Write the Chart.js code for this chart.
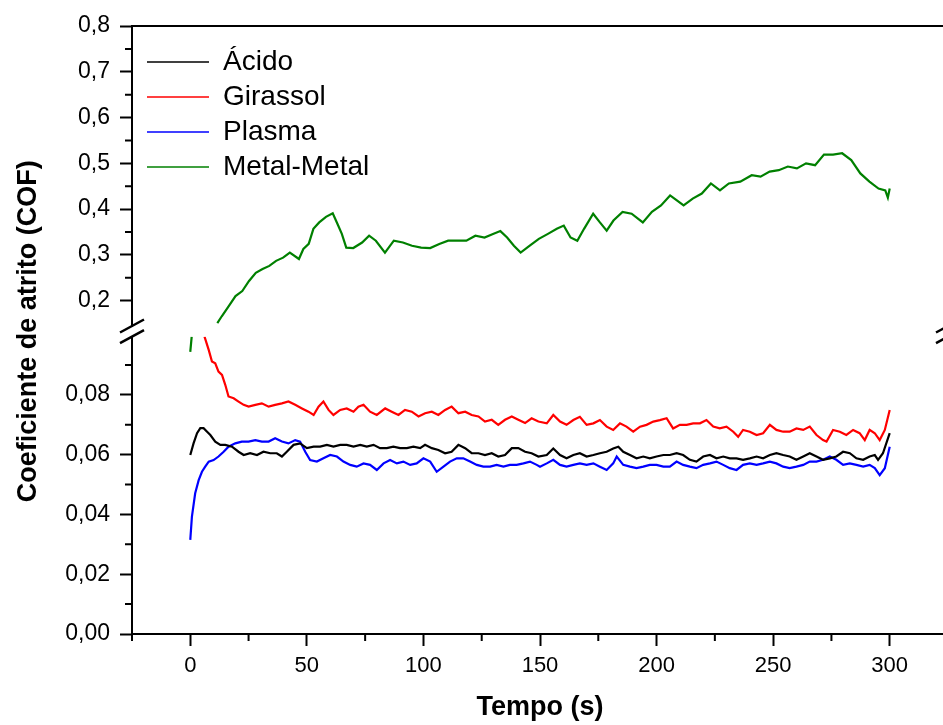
<!DOCTYPE html>
<html lang="pt-BR">
<head>
<meta charset="utf-8">
<title>Coeficiente de atrito x Tempo</title>
<script src="https://cdn.jsdelivr.net/npm/chart.js@4.4.1/dist/chart.umd.min.js"></script>
<style>
  html, body { margin: 0; padding: 0; background: #fff; overflow: hidden; }
  canvas { display: block; }
</style>
</head>
<body>
<canvas id="cofChart" width="960" height="725"></canvas>
<script>
// Dados: [tempo (s), COF]
const acido = [
  [0,0.0599],[1.4,0.0638],[2.9,0.0672],[4.3,0.0689],[5.7,0.0689],[7.1,0.0678],[8.6,0.0666],[10.7,0.0644],
  [12.9,0.0633],[15.0,0.0633],[17.9,0.0627],[20.7,0.0610],[22.9,0.0599],[25.7,0.0605],[28.6,0.0599],
  [31.4,0.0610],[34.3,0.0605],[37.1,0.0605],[39.3,0.0594],[41.4,0.0610],[44.3,0.0633],[47.1,0.0638],
  [50.0,0.0622],[52.9,0.0627],[55.7,0.0627],[58.6,0.0633],[61.4,0.0627],[64.3,0.0633],[67.1,0.0633],
  [70.0,0.0627],[72.9,0.0633],[75.7,0.0627],[78.6,0.0633],[81.4,0.0622],[84.3,0.0622],[87.1,0.0627],
  [90.0,0.0622],[92.9,0.0622],[95.7,0.0627],[98.6,0.0622],[100.7,0.0633],[103.6,0.0622],[106.4,0.0616],
  [109.3,0.0605],[112.1,0.0610],[115.0,0.0633],[117.9,0.0622],[120.7,0.0605],[123.6,0.0605],[126.4,0.0599],
  [129.3,0.0605],[132.1,0.0594],[135.0,0.0599],[137.9,0.0622],[140.7,0.0622],[143.6,0.0610],[146.4,0.0605],
  [149.3,0.0594],[152.9,0.0599],[155.7,0.0621],[158.6,0.0599],[161.4,0.0588],[164.3,0.0599],[167.1,0.0605],
  [170.0,0.0594],[172.9,0.0599],[175.7,0.0605],[178.6,0.0610],[181.4,0.0621],[183.6,0.0627],[185.7,0.0610],
  [188.6,0.0599],[191.4,0.0588],[194.3,0.0594],[197.1,0.0588],[200.0,0.0594],[202.9,0.0599],[205.7,0.0599],
  [208.6,0.0605],[211.4,0.0599],[214.3,0.0583],[217.1,0.0577],[220.0,0.0594],[222.9,0.0599],[225.7,0.0588],
  [228.6,0.0594],[231.4,0.0588],[234.3,0.0588],[237.1,0.0583],[240.0,0.0588],[242.9,0.0594],[245.7,0.0588],
  [248.6,0.0599],[251.4,0.0605],[254.3,0.0599],[257.1,0.0594],[260.0,0.0583],[262.9,0.0594],[265.7,0.0605],
  [268.6,0.0594],[271.4,0.0583],[274.3,0.0588],[277.1,0.0594],[280.0,0.0610],[282.9,0.0605],[285.7,0.0588],
  [288.6,0.0583],[291.4,0.0594],[293.6,0.0599],[295.0,0.0583],[297.1,0.0605],[300.0,0.0672]
];

const girassol = [
  [6.1,0.0995],[7.9,0.0951],[9.3,0.0912],[10.7,0.0906],[12.1,0.0878],[13.6,0.0867],[15.0,0.0834],
  [16.4,0.0795],[18.6,0.0789],[20.7,0.0778],[22.9,0.0767],[25.0,0.0761],[27.9,0.0767],[30.7,0.0772],
  [33.6,0.0761],[36.4,0.0767],[39.3,0.0772],[42.1,0.0778],[45.0,0.0767],[47.9,0.0755],[50.7,0.0744],
  [52.9,0.0733],[55.0,0.0761],[57.1,0.0778],[59.3,0.0750],[61.4,0.0733],[64.3,0.0750],[67.1,0.0755],
  [70.0,0.0744],[72.1,0.0761],[74.3,0.0767],[77.1,0.0744],[80.0,0.0733],[83.6,0.0755],[86.4,0.0744],
  [89.3,0.0733],[92.1,0.0750],[95.0,0.0744],[97.9,0.0728],[100.7,0.0739],[103.6,0.0744],[106.4,0.0733],
  [109.3,0.0750],[112.1,0.0761],[115.0,0.0739],[117.9,0.0744],[120.7,0.0733],[123.6,0.0728],[126.4,0.0711],
  [129.3,0.0717],[132.1,0.0700],[135.0,0.0717],[137.9,0.0728],[140.7,0.0717],[143.6,0.0706],[146.4,0.0722],
  [149.3,0.0711],[152.9,0.0705],[155.7,0.0733],[158.6,0.0711],[161.4,0.0700],[164.3,0.0716],[167.1,0.0727],
  [170.0,0.0700],[172.9,0.0705],[175.7,0.0716],[178.6,0.0694],[181.4,0.0683],[184.3,0.0705],[187.1,0.0694],
  [190.0,0.0677],[192.9,0.0694],[195.7,0.0700],[198.6,0.0711],[201.4,0.0716],[204.3,0.0722],[207.1,0.0688],
  [210.0,0.0700],[212.9,0.0700],[215.7,0.0705],[218.6,0.0705],[221.4,0.0716],[224.3,0.0694],[227.1,0.0688],
  [230.0,0.0694],[232.9,0.0677],[235.0,0.0660],[237.1,0.0683],[240.0,0.0677],[242.9,0.0666],[245.7,0.0672],
  [248.6,0.0700],[251.4,0.0683],[254.3,0.0677],[257.1,0.0677],[260.0,0.0688],[262.9,0.0683],[265.7,0.0694],
  [268.6,0.0666],[271.4,0.0649],[272.9,0.0644],[275.7,0.0683],[278.6,0.0677],[281.4,0.0666],[284.3,0.0683],
  [287.1,0.0672],[289.3,0.0649],[291.4,0.0683],[293.6,0.0672],[295.7,0.0649],[297.9,0.0683],[300.0,0.0750]
];

const plasma = [
  [0,0.0315],[0.7,0.0393],[2.1,0.0471],[3.6,0.0515],[5.0,0.0543],[6.4,0.0560],[7.9,0.0577],[10.0,0.0582],
  [12.1,0.0594],[14.3,0.0610],[16.4,0.0627],[19.3,0.0638],[22.1,0.0644],[25.0,0.0644],[27.9,0.0649],
  [30.7,0.0644],[33.6,0.0644],[36.4,0.0655],[39.3,0.0644],[42.1,0.0638],[45.0,0.0649],[47.1,0.0644],
  [49.3,0.0610],[51.4,0.0582],[54.3,0.0577],[57.1,0.0588],[60.0,0.0599],[62.9,0.0594],[65.7,0.0577],
  [68.6,0.0566],[71.4,0.0560],[74.3,0.0571],[77.1,0.0566],[80.0,0.0549],[82.9,0.0571],[85.7,0.0582],
  [88.6,0.0571],[91.4,0.0577],[94.3,0.0566],[97.1,0.0571],[100.0,0.0588],[102.9,0.0577],[105.7,0.0543],
  [108.6,0.0560],[111.4,0.0577],[114.3,0.0588],[117.1,0.0588],[120.0,0.0577],[122.9,0.0566],[125.7,0.0560],
  [128.6,0.0560],[131.4,0.0566],[134.3,0.0560],[137.1,0.0566],[140.0,0.0566],[142.9,0.0571],[145.7,0.0577],
  [148.6,0.0566],[150.0,0.0560],[152.9,0.0571],[155.7,0.0583],[158.6,0.0566],[161.4,0.0560],[164.3,0.0566],
  [167.1,0.0571],[170.0,0.0566],[172.9,0.0571],[175.7,0.0560],[178.6,0.0549],[181.4,0.0571],[182.9,0.0594],
  [185.7,0.0566],[188.6,0.0560],[191.4,0.0555],[194.3,0.0560],[197.1,0.0566],[200.0,0.0566],[202.9,0.0560],
  [205.7,0.0560],[208.6,0.0577],[211.4,0.0566],[214.3,0.0560],[217.1,0.0555],[220.0,0.0566],[222.9,0.0571],
  [225.7,0.0577],[228.6,0.0566],[231.4,0.0555],[234.3,0.0549],[237.1,0.0566],[240.0,0.0571],[242.9,0.0566],
  [245.7,0.0571],[248.6,0.0577],[251.4,0.0571],[254.3,0.0560],[257.1,0.0555],[260.0,0.0560],[262.9,0.0566],
  [265.7,0.0577],[268.6,0.0577],[271.4,0.0583],[274.3,0.0594],[277.1,0.0583],[280.0,0.0566],[282.9,0.0571],
  [285.7,0.0566],[288.6,0.0560],[291.4,0.0566],[293.6,0.0555],[295.7,0.0532],[297.9,0.0555],[300.0,0.0627]
];

// Metal-Metal: trecho inicial (eixo de baixo) e restante (eixo de cima)
const metalInicio = [[0,0.0944],[0.6,0.0995]];
const metal = [
  [11.6,0.151],[13.5,0.166],[16.5,0.188],[19.4,0.210],[22.3,0.221],[25.2,0.243],[28.1,0.261],[31.0,0.269],
  [33.9,0.276],[36.8,0.287],[39.8,0.294],[42.7,0.305],[46.6,0.291],[48.5,0.313],[50.8,0.324],[52.8,0.357],
  [55.3,0.371],[58.2,0.383],[61.1,0.391],[63.1,0.368],[65.0,0.346],[66.9,0.316],[69.9,0.315],[73.7,0.327],
  [76.7,0.342],[79.6,0.331],[83.5,0.305],[87.3,0.331],[91.2,0.327],[95.1,0.320],[99.0,0.316],[102.9,0.315],
  [106.8,0.324],[110.6,0.331],[114.5,0.331],[118.4,0.331],[122.3,0.342],[126.2,0.338],[130.1,0.346],
  [133.0,0.352],[135.9,0.338],[138.8,0.320],[141.7,0.305],[145.6,0.320],[149.5,0.335],[153.4,0.346],
  [157.2,0.357],[160.2,0.364],[163.1,0.338],[166.0,0.331],[168.9,0.357],[172.8,0.390],[175.7,0.371],
  [178.6,0.353],[181.5,0.375],[185.4,0.394],[189.3,0.390],[194.1,0.371],[198.0,0.394],[201.9,0.408],
  [205.8,0.430],[208.7,0.419],[211.6,0.408],[215.5,0.423],[219.4,0.434],[223.3,0.456],[227.2,0.441],
  [231.0,0.456],[235.9,0.460],[240.8,0.474],[244.6,0.471],[248.5,0.482],[252.4,0.485],[256.3,0.493],
  [260.2,0.489],[264.1,0.500],[268.0,0.496],[271.8,0.519],[275.7,0.519],[279.6,0.522],[283.5,0.507],
  [287.4,0.478],[291.3,0.460],[295.2,0.445],[298.1,0.441],[299.2,0.425],[300.0,0.445]
];

const xTicks = [0, 50, 100, 150, 200, 250, 300];
const yTopoTicks = [0.2, 0.3, 0.4, 0.5, 0.6, 0.7, 0.8];
const yBaixoTicks = [0.00, 0.02, 0.04, 0.06, 0.08];

const FONTE = '"Liberation Sans", Arial, Helvetica, sans-serif';
const pontos = arr => arr.map(p => ({ x: p[0], y: p[1] }));

// marcas menores, linha de cima e sinais de quebra do eixo
const extras = {
  id: 'extras',
  afterLayout(chart) {
    // legenda dentro da área, mais para baixo e à direita
    const lg = chart.legend;
    const a = chart.chartArea;
    const dx = a.left + 8 - lg.left;
    const dy = a.top + 15 - lg.top;
    lg.left += dx; lg.right += dx;
    lg.top += dy; lg.bottom += dy;
  },
  afterDraw(chart) {
    const { ctx, chartArea: a, scales } = chart;
    const x = scales.x, yt = scales.yTopo, yb = scales.yBaixo;
    ctx.save();
    ctx.strokeStyle = '#000';
    ctx.lineWidth = 2;
    ctx.beginPath();
    ctx.moveTo(a.left - 1, a.top);
    ctx.lineTo(a.right, a.top);
    for (let v = -25; v <= 325; v += 50) {
      const px = x.getPixelForValue(v);
      ctx.moveTo(px, a.bottom);
      ctx.lineTo(px, a.bottom + 7);
    }
    for (let v = 0.25; v < 0.8; v += 0.1) {
      const py = yt.getPixelForValue(v);
      ctx.moveTo(a.left - 7, py);
      ctx.lineTo(a.left, py);
    }
    for (let v = 0.01; v < 0.1; v += 0.02) {
      const py = yb.getPixelForValue(v);
      ctx.moveTo(a.left - 7, py);
      ctx.lineTo(a.left, py);
    }
    ctx.stroke();
    // quebra do eixo
    ctx.lineWidth = 2.5;
    ctx.beginPath();
    [a.left, a.right].forEach(px => {
      [yt.bottom, yb.top].forEach(py => {
        ctx.moveTo(px - 12, py + 6.5);
        ctx.lineTo(px + 12, py - 6.5);
      });
    });
    ctx.stroke();
    ctx.restore();
  }
};

const eixoY = (ticks, casas) => ({
  type: 'linear',
  position: 'left',
  stack: 'cof',
  afterBuildTicks: s => { s.ticks = ticks.map(v => ({ value: v })); },
  afterFit: s => { s.width = 132; },
  ticks: {
    color: '#000',
    padding: 10,
    autoSkip: false,
    font: { family: FONTE, size: 23 },
    callback: v => v.toFixed(casas).replace('.', ',')
  },
  grid: { drawOnChartArea: false, tickLength: 12, tickWidth: 2, tickColor: '#000' },
  border: { color: '#000', width: 2 }
});

const yTopo = Object.assign(eixoY(yTopoTicks, 1), { min: 0.1447, max: 0.8, stackWeight: 300, weight: 3 });
const yBaixo = Object.assign(eixoY(yBaixoTicks, 2), { min: 0, max: 0.0995, stackWeight: 297.3, weight: 1 });

const ctx = document.getElementById('cofChart').getContext('2d');
new Chart(ctx, {
  type: 'line',
  data: {
    datasets: [
      { label: 'Ácido', data: pontos(acido), borderColor: '#000000', yAxisID: 'yBaixo' },
      { label: 'Girassol', data: pontos(girassol), borderColor: '#ff0000', yAxisID: 'yBaixo' },
      { label: 'Plasma', data: pontos(plasma), borderColor: '#0000ff', yAxisID: 'yBaixo' },
      { label: 'Metal-Metal', data: pontos(metal), borderColor: '#008000', yAxisID: 'yTopo' },
      { label: 'Metal-Metal', data: pontos(metalInicio), borderColor: '#008000', yAxisID: 'yBaixo' }
    ]
  },
  options: {
    responsive: false,
    animation: false,
    layout: { padding: { left: 0, top: 26, right: 12, bottom: 0 } },
    elements: {
      line: { borderWidth: 2.2, tension: 0, fill: false },
      point: { radius: 0, hoverRadius: 0 }
    },
    plugins: {
      legend: {
        position: 'chartArea',
        align: 'start',
        labels: {
          color: '#000',
          font: { family: FONTE, size: 28, lineHeight: 1 },
          padding: 7,
          usePointStyle: true,
          pointStyle: 'line',
          pointStyleWidth: 62,
          filter: item => {
            item.lineWidth = 1.5; // traço fino na legenda
            return item.datasetIndex !== 4;
          }
        }
      },
      tooltip: { enabled: false }
    },
    scales: {
      x: {
        type: 'linear',
        position: 'bottom',
        min: -25,
        max: 325,
        afterBuildTicks: s => { s.ticks = xTicks.map(v => ({ value: v })); },
        afterFit: s => { s.height = 91; },
        ticks: { color: '#000', padding: 7, maxRotation: 0, autoSkip: false, font: { family: FONTE, size: 22 } },
        grid: { drawOnChartArea: false, tickLength: 12, tickWidth: 2, tickColor: '#000' },
        border: { color: '#000', width: 2 },
        title: {
          display: true,
          text: 'Tempo (s)',
          color: '#000',
          font: { family: FONTE, size: 27, weight: 'bold' },
          padding: { top: 0, bottom: 1 }
        }
      },
      yTopo: yTopo,
      // eixo vazio entre as duas partes, só para o vão e o título
      yVao: {
        type: 'linear',
        position: 'left',
        stack: 'cof',
        stackWeight: 10.7,
        weight: 2,
        min: 0,
        max: 1,
        afterFit: s => { s.width = 132; },
        ticks: { display: false },
        grid: { display: false },
        border: { display: false },
        title: {
          display: true,
          text: 'Coeficiente de atrito (COF)',
          color: '#000',
          font: { family: FONTE, size: 27, weight: 'bold' },
          padding: { top: 12, bottom: 0 }
        }
      },
      yBaixo: yBaixo
    }
  },
  plugins: [extras]
});
</script>
</body>
</html>
